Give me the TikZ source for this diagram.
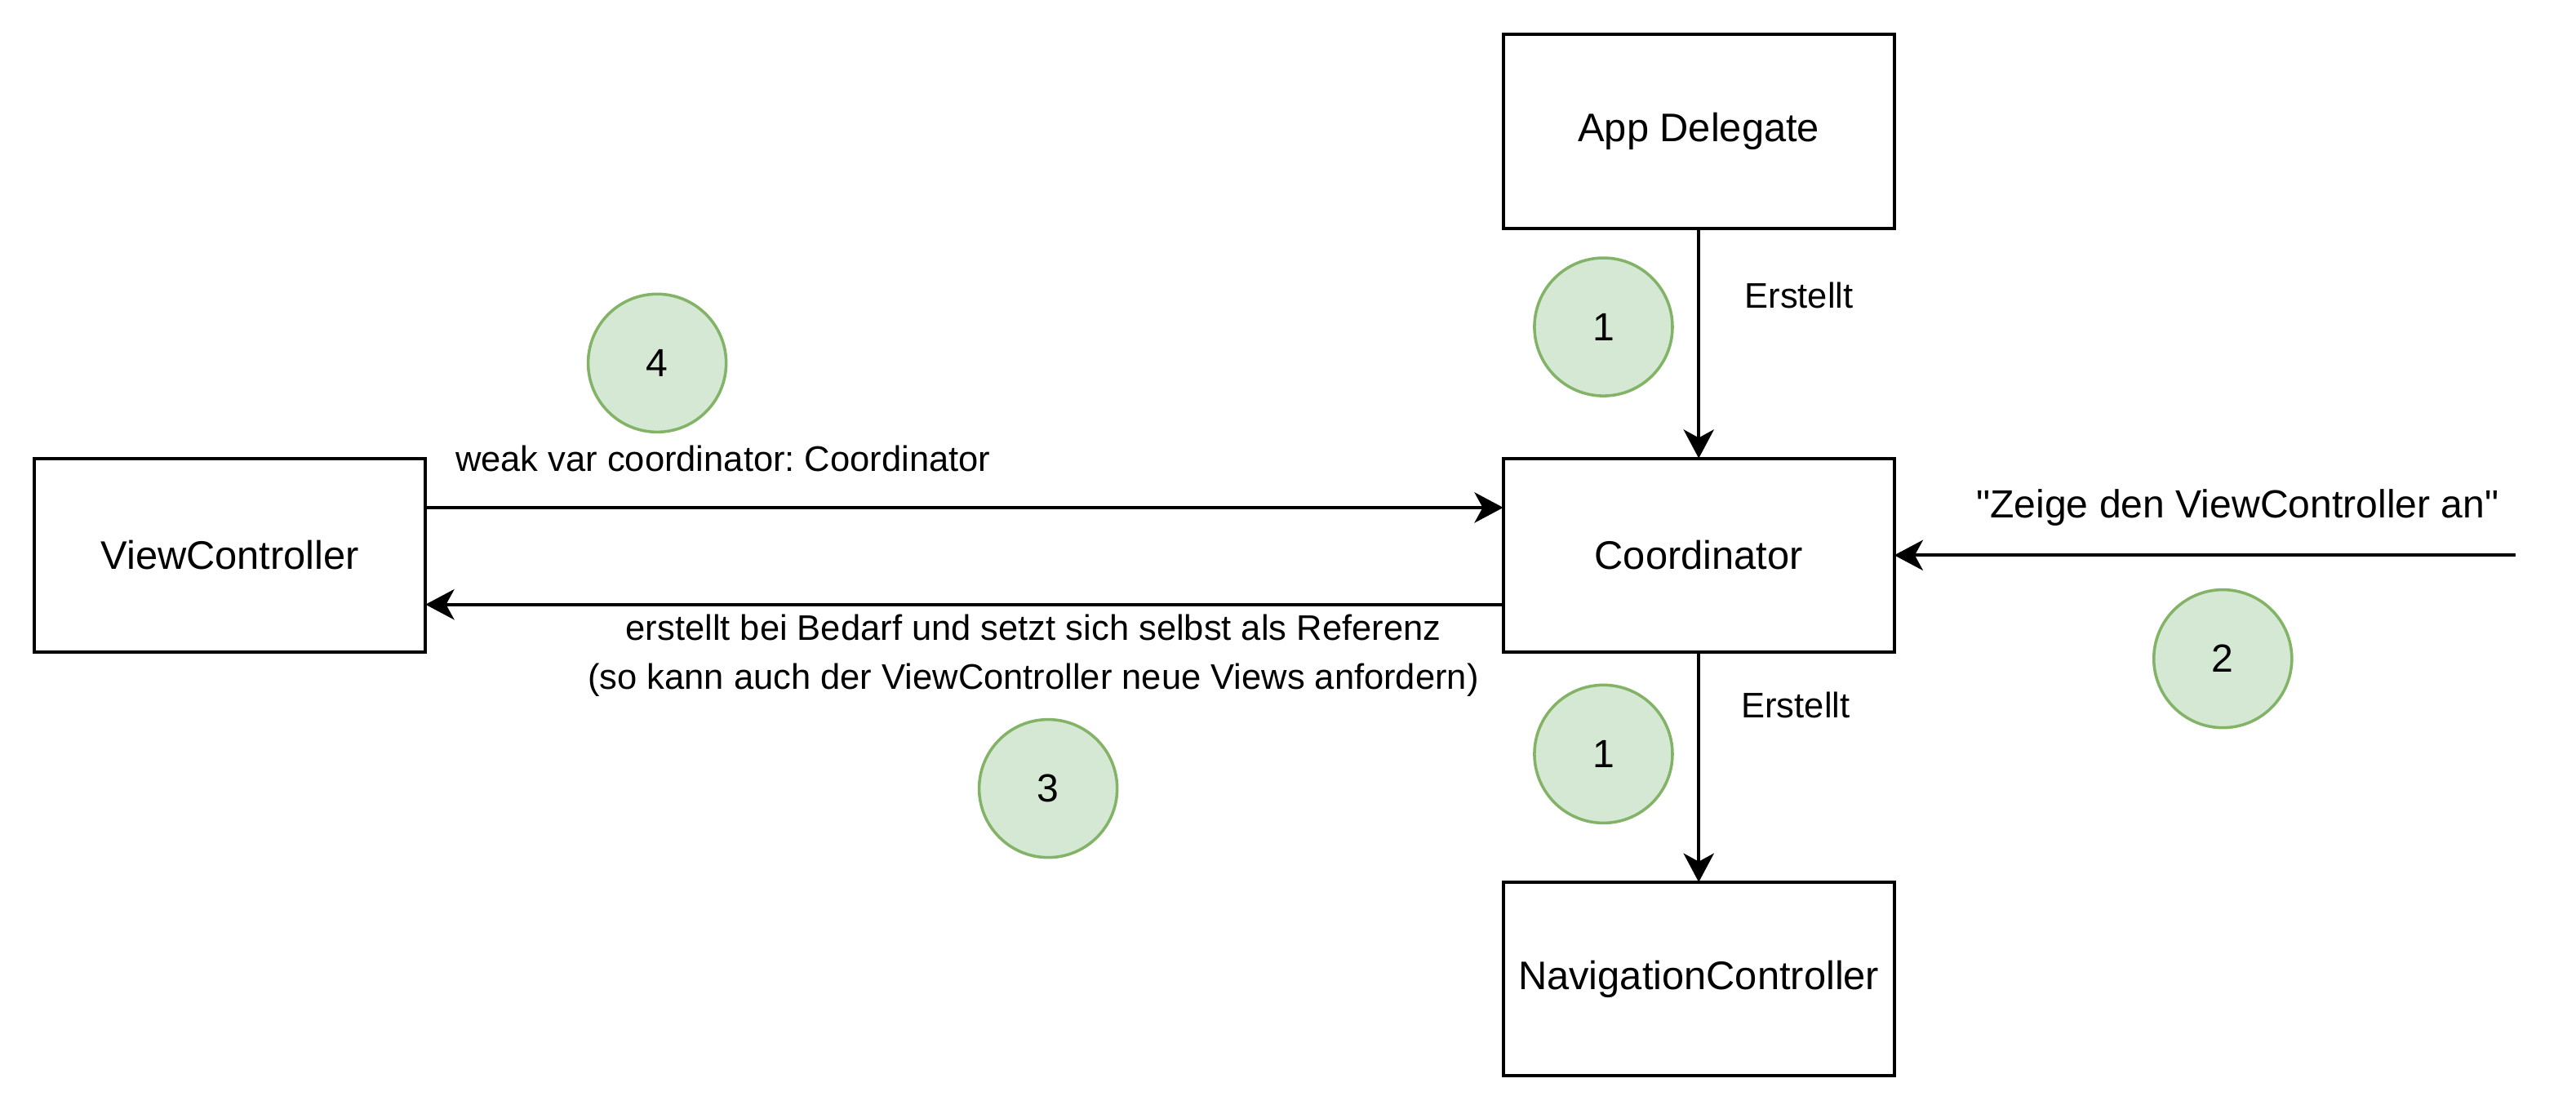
\documentclass[tikz,border=0pt]{standalone}
\usepackage{fontspec}
\setmainfont{Liberation Sans}[Ligatures=TeXOff]
\usepackage{tikz}
\usetikzlibrary{arrows.meta,positioning}
\usepackage{xcolor}
\definecolor{badgefill}{HTML}{D5E8D4}
\definecolor{badgeline}{HTML}{82B366}
\frenchspacing
\tikzset{
  box/.style={draw=black, line width=1.1pt, fill=white, align=center, minimum width=4.76cm, minimum height=2.36cm, inner sep=0pt, outer sep=0pt, font=\fontsize{13.8}{16}\selectfont},
  badge/.style={circle, draw=badgeline, line width=1pt, fill=badgefill, minimum size=1.68cm, inner sep=0pt, font=\fontsize{13.6}{16}\selectfont},
  arrow/.style={-{Stealth[length=0.35cm, width=0.37cm, inset=0.1cm]}, line width=1.1pt, draw=black},
  edgelabel/.style={align=center, inner sep=0pt, font=\fontsize{12.3}{17}\selectfont},
  biglabel/.style={align=center, inner sep=0pt, font=\fontsize{13.6}{16}\selectfont}
}

\begin{document}
\begin{tikzpicture}[node distance=2.8cm]
  \useasboundingbox (0,0) rectangle (31.36,-13.56);
  \node[box] (coordinator) at (20.68,-6.76) {Coordinator};
  \node[box, above=of coordinator] (appdelegate) {App Delegate};
  \node[box, below=of coordinator] (navcontroller) {NavigationController};
  \node[box, left=13.12cm of coordinator] (viewcontroller) {ViewController};
  \coordinate[right=7.56cm of coordinator.east] (request);

  \node[badge] (first) at (19.52,-3.98) {1};
  \node[badge] (firstnav) at (19.52,-9.18) {1};
  \node[badge] (second) at (27.06,-8.02) {2};
  \node[badge] (third) at (12.76,-9.60) {3};
  \node[badge] (fourth) at (8.00,-4.42) {4};

  \draw[arrow] (appdelegate) -- node[edgelabel, pos=0.29, anchor=west, xshift=0.54cm] {Erstellt} (coordinator);
  \draw[arrow] (coordinator) -- node[edgelabel, pos=0.23, anchor=west, xshift=0.5cm] {Erstellt} (navcontroller);
  \draw[arrow] ([yshift=0.58cm]viewcontroller.east) -- node[edgelabel, pos=0.276, yshift=0.6cm] {weak var coordinator: Coordinator} ([yshift=0.58cm]coordinator.west);
  \draw[arrow] ([yshift=-0.6cm]coordinator.west) -- node[edgelabel, pos=0.436, yshift=-0.62cm] {erstellt bei Bedarf und setzt sich selbst als Referenz\\(so kann auch der ViewController neue Views anfordern)} ([yshift=-0.6cm]viewcontroller.east);
  \draw[arrow] (request) -- node[biglabel, pos=0.447, yshift=0.58cm] {"Zeige den ViewController an"} (coordinator);
\end{tikzpicture}
\end{document}
